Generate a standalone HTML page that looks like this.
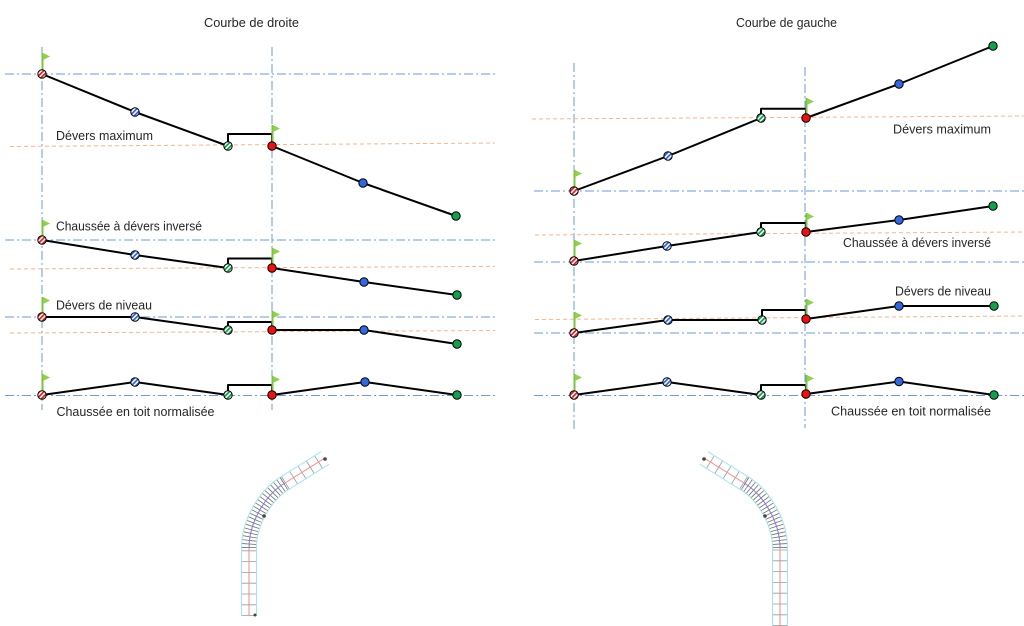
<!DOCTYPE html>
<html><head><meta charset="utf-8"><style>
html,body{margin:0;padding:0;background:#fff;}
svg{display:block;}
text{font-family:"Liberation Sans",sans-serif;font-size:13px;fill:#262626;}
</style></head><body>
<svg width="1024" height="626" viewBox="0 0 1024 626" xmlns="http://www.w3.org/2000/svg">
<defs>
<pattern id="pr" width="3.2" height="3.2" patternUnits="userSpaceOnUse" patternTransform="rotate(45)"><rect width="3.2" height="3.2" fill="#fff"/><rect width="1.7" height="3.2" fill="#e01e1e"/></pattern>
<pattern id="pb" width="3.2" height="3.2" patternUnits="userSpaceOnUse" patternTransform="rotate(45)"><rect width="3.2" height="3.2" fill="#fff"/><rect width="1.7" height="3.2" fill="#2f62d8"/></pattern>
<pattern id="pg" width="3.2" height="3.2" patternUnits="userSpaceOnUse" patternTransform="rotate(45)"><rect width="3.2" height="3.2" fill="#fff"/><rect width="1.7" height="3.2" fill="#109a48"/></pattern>
</defs>
<rect width="1024" height="626" fill="#fff"/>

<!-- Titles -->
<text x="204" y="27" textLength="95" lengthAdjust="spacingAndGlyphs">Courbe de droite</text>
<text x="736" y="27" textLength="101" lengthAdjust="spacingAndGlyphs">Courbe de gauche</text>

<!-- Blue dash-dot reference lines -->
<g stroke="#6d9bd6" stroke-width="1" stroke-dasharray="9 3 2 3" fill="none">
<line x1="5" y1="74" x2="495" y2="74"/>
<line x1="5" y1="240" x2="495" y2="240"/>
<line x1="5" y1="317" x2="495" y2="317"/>
<line x1="5" y1="395.5" x2="495" y2="395.5"/>
<line x1="42" y1="47" x2="42" y2="410"/>
<line x1="272" y1="47" x2="272" y2="410"/>
<line x1="534" y1="191" x2="1024" y2="191"/>
<line x1="534" y1="262" x2="1024" y2="262"/>
<line x1="534" y1="333" x2="1024" y2="333"/>
<line x1="534" y1="395.5" x2="1024" y2="395.5"/>
<line x1="574" y1="63" x2="574" y2="430"/>
<line x1="805" y1="67" x2="805" y2="428"/>
</g>

<!-- Orange dashed lines -->
<g stroke="#f6b58a" stroke-width="1" stroke-dasharray="4 3" fill="none">
<line x1="10" y1="146.5" x2="495" y2="143"/>
<line x1="10" y1="269" x2="495" y2="266.4"/>
<line x1="10" y1="333" x2="495" y2="330.5"/>
<line x1="532" y1="119" x2="1024" y2="116"/>
<line x1="535" y1="235" x2="1024" y2="232"/>
<line x1="535" y1="319.5" x2="1024" y2="316"/>
</g>

<!-- Black profile lines -->
<g stroke="#000" stroke-width="2" fill="none" stroke-linejoin="round">
<polyline points="42,74 135,112 228,146"/>
<polyline points="272,146 363,183 456,216"/>
<polyline points="228,146 228,134 272,134 272,146"/>
<polyline points="42,240 135,255 228,268"/>
<polyline points="272,268 364,282 457,295"/>
<polyline points="228,268 228,258.5 272,258.5 272,268"/>
<polyline points="42,317 135,317 228,330"/>
<polyline points="272,330 364,330 457,344"/>
<polyline points="228,330 228,322 272,322 272,330"/>
<polyline points="42,395 135,382 228,395"/>
<polyline points="272,395 365,382 457,395"/>
<polyline points="228,395 228,385 272,385 272,395"/>

<polyline points="574,191 668,156 761,118"/>
<polyline points="806,118 899,84 993,46"/>
<polyline points="761,118 761,108.7 806,108.7 806,118"/>
<polyline points="574,261 667,246 761,232"/>
<polyline points="806,232 899,220 993,206"/>
<polyline points="761,232 761,223 806,223 806,232"/>
<polyline points="574,333 668,320 762,320"/>
<polyline points="806,319 899,306 994,306"/>
<polyline points="762,320 762,310 806,310 806,319"/>
<polyline points="574,395 667,382 761,395"/>
<polyline points="806,394 899,381.5 994,395"/>
<polyline points="761,395 761,385 806,385 806,394"/>
</g>

<!-- Flags -->
<g>
<g stroke="#7cc242" stroke-width="2">
<line x1="42.5" y1="53" x2="42.5" y2="70"/>
<line x1="272.5" y1="125" x2="272.5" y2="142"/>
<line x1="42.5" y1="220" x2="42.5" y2="237"/>
<line x1="272.5" y1="248" x2="272.5" y2="265"/>
<line x1="42.5" y1="297" x2="42.5" y2="314"/>
<line x1="272.5" y1="311" x2="272.5" y2="327"/>
<line x1="42.5" y1="374" x2="42.5" y2="392"/>
<line x1="272.5" y1="376" x2="272.5" y2="392"/>
<line x1="574.5" y1="170" x2="574.5" y2="188"/>
<line x1="806.5" y1="98" x2="806.5" y2="115"/>
<line x1="574.5" y1="240" x2="574.5" y2="258"/>
<line x1="806.5" y1="213" x2="806.5" y2="229"/>
<line x1="574.5" y1="312" x2="574.5" y2="330"/>
<line x1="806.5" y1="299" x2="806.5" y2="316"/>
<line x1="574.5" y1="374" x2="574.5" y2="392"/>
<line x1="806.5" y1="375" x2="806.5" y2="391"/>
</g>
<g fill="#8fd14f">
<polygon points="43,53 50,56.5 43,60"/>
<polygon points="273,125 280,128.5 273,132"/>
<polygon points="43,220 50,223.5 43,227"/>
<polygon points="273,248 280,251.5 273,255"/>
<polygon points="43,297 50,300.5 43,304"/>
<polygon points="273,311 280,314.5 273,318"/>
<polygon points="43,374 50,377.5 43,381"/>
<polygon points="273,376 280,379.5 273,383"/>
<polygon points="575,170 582,173.5 575,177"/>
<polygon points="807,98 814,101.5 807,105"/>
<polygon points="575,240 582,243.5 575,247"/>
<polygon points="807,213 814,216.5 807,220"/>
<polygon points="575,312 582,315.5 575,319"/>
<polygon points="807,299 814,302.5 807,306"/>
<polygon points="575,374 582,377.5 575,381"/>
<polygon points="807,375 814,378.5 807,382"/>
</g>
</g>

<!-- Markers -->
<g stroke="#000" stroke-width="1">
<!-- left -->
<circle cx="42" cy="74" r="4.2" fill="url(#pr)"/>
<circle cx="135" cy="112" r="4.2" fill="url(#pb)"/>
<circle cx="228" cy="146" r="4.2" fill="url(#pg)"/>
<circle cx="272" cy="146" r="4.2" fill="#ee1111"/>
<circle cx="363" cy="183" r="4.2" fill="#3466e0"/>
<circle cx="456" cy="216" r="4.2" fill="#12a04c"/>

<circle cx="42" cy="240" r="4.2" fill="url(#pr)"/>
<circle cx="135" cy="255" r="4.2" fill="url(#pb)"/>
<circle cx="228" cy="268" r="4.2" fill="url(#pg)"/>
<circle cx="272" cy="268" r="4.2" fill="#ee1111"/>
<circle cx="364" cy="282" r="4.2" fill="#3466e0"/>
<circle cx="457" cy="295" r="4.2" fill="#12a04c"/>

<circle cx="42" cy="317" r="4.2" fill="url(#pr)"/>
<circle cx="135" cy="317" r="4.2" fill="url(#pb)"/>
<circle cx="228" cy="330" r="4.2" fill="url(#pg)"/>
<circle cx="272" cy="330" r="4.2" fill="#ee1111"/>
<circle cx="364" cy="330" r="4.2" fill="#3466e0"/>
<circle cx="457" cy="344" r="4.2" fill="#12a04c"/>

<circle cx="42" cy="395" r="4.2" fill="url(#pr)"/>
<circle cx="135" cy="382" r="4.2" fill="url(#pb)"/>
<circle cx="228" cy="395" r="4.2" fill="url(#pg)"/>
<circle cx="272" cy="395" r="4.2" fill="#ee1111"/>
<circle cx="365" cy="382" r="4.2" fill="#3466e0"/>
<circle cx="457" cy="395" r="4.2" fill="#12a04c"/>
<!-- right -->
<circle cx="574" cy="191" r="4.2" fill="url(#pr)"/>
<circle cx="668" cy="156" r="4.2" fill="url(#pb)"/>
<circle cx="761" cy="118" r="4.2" fill="url(#pg)"/>
<circle cx="806" cy="118" r="4.2" fill="#ee1111"/>
<circle cx="899" cy="84" r="4.2" fill="#3466e0"/>
<circle cx="993" cy="46" r="4.2" fill="#12a04c"/>

<circle cx="574" cy="261" r="4.2" fill="url(#pr)"/>
<circle cx="667" cy="246" r="4.2" fill="url(#pb)"/>
<circle cx="761" cy="232" r="4.2" fill="url(#pg)"/>
<circle cx="806" cy="232" r="4.2" fill="#ee1111"/>
<circle cx="899" cy="220" r="4.2" fill="#3466e0"/>
<circle cx="993" cy="206" r="4.2" fill="#12a04c"/>

<circle cx="574" cy="333" r="4.2" fill="url(#pr)"/>
<circle cx="668" cy="320" r="4.2" fill="url(#pb)"/>
<circle cx="762" cy="320" r="4.2" fill="url(#pg)"/>
<circle cx="806" cy="319" r="4.2" fill="#ee1111"/>
<circle cx="899" cy="306" r="4.2" fill="#3466e0"/>
<circle cx="994" cy="306" r="4.2" fill="#12a04c"/>

<circle cx="574" cy="395" r="4.2" fill="url(#pr)"/>
<circle cx="667" cy="382" r="4.2" fill="url(#pb)"/>
<circle cx="761" cy="395" r="4.2" fill="url(#pg)"/>
<circle cx="806" cy="394" r="4.2" fill="#ee1111"/>
<circle cx="899" cy="381.5" r="4.2" fill="#3466e0"/>
<circle cx="994" cy="395" r="4.2" fill="#12a04c"/>
</g>

<!-- Labels -->
<text x="56" y="140" textLength="97" lengthAdjust="spacingAndGlyphs">Dévers maximum</text>
<text x="56" y="230.7" textLength="146" lengthAdjust="spacingAndGlyphs">Chaussée à dévers inversé</text>
<text x="56" y="309.3" textLength="96" lengthAdjust="spacingAndGlyphs">Dévers de niveau</text>
<text x="56.5" y="416" textLength="158" lengthAdjust="spacingAndGlyphs">Chaussée en toit normalisée</text>

<text x="893" y="133.3" textLength="98" lengthAdjust="spacingAndGlyphs">Dévers maximum</text>
<text x="843" y="247" textLength="148" lengthAdjust="spacingAndGlyphs">Chaussée à dévers inversé</text>
<text x="895" y="295.7" textLength="96" lengthAdjust="spacingAndGlyphs">Dévers de niveau</text>
<text x="831" y="415.7" textLength="160" lengthAdjust="spacingAndGlyphs">Chaussée en toit normalisée</text>

<!-- Road plan left -->
<g fill="none">
<path d="M249,616 L249,548 C249,520 267.7,493 285,483 L325,458" stroke="#a6e3f2" stroke-width="16"/>
<path d="M249,616 L249,548 C249,520 267.7,493 285,483 L325,458" stroke="#fff" stroke-width="14"/>
<path d="M249,616 L249,548" stroke="#9a9a9a" stroke-width="14" stroke-dasharray="0.8 10"/>
<path d="M249,548 C249,520 267.7,493 285,483" stroke="#6e6e6e" stroke-width="14" stroke-dasharray="0.8 2.8"/>
<path d="M285,483 L325,458" stroke="#9a9a9a" stroke-width="14" stroke-dasharray="0.8 9"/>
<path d="M249,616 L249,548" stroke="#f08a8a" stroke-width="1"/>
<path d="M249,548 C249,520 267.7,493 285,483" stroke="#7a7ae6" stroke-width="1"/>
<path d="M285,483 L325,458" stroke="#f08a8a" stroke-width="1"/>
<circle cx="325" cy="459" r="1.8" fill="#444"/>
<circle cx="264" cy="516" r="1.8" fill="#444"/>
<circle cx="255" cy="615" r="1.5" fill="#444"/>
</g>

<!-- Road plan right (mirror) -->
<g fill="none" transform="translate(1029,0) scale(-1,1)">
<path d="M249,626 L249,548 C249,520 267.7,493 285,483 L325,458" stroke="#a6e3f2" stroke-width="16"/>
<path d="M249,626 L249,548 C249,520 267.7,493 285,483 L325,458" stroke="#fff" stroke-width="14"/>
<path d="M249,626 L249,548" stroke="#9a9a9a" stroke-width="14" stroke-dasharray="0.8 10"/>
<path d="M249,548 C249,520 267.7,493 285,483" stroke="#6e6e6e" stroke-width="14" stroke-dasharray="0.8 2.8"/>
<path d="M285,483 L325,458" stroke="#9a9a9a" stroke-width="14" stroke-dasharray="0.8 9"/>
<path d="M249,626 L249,548" stroke="#f08a8a" stroke-width="1"/>
<path d="M249,548 C249,520 267.7,493 285,483" stroke="#7a7ae6" stroke-width="1"/>
<path d="M285,483 L325,458" stroke="#f08a8a" stroke-width="1"/>
<circle cx="325" cy="459" r="1.8" fill="#444"/>
<circle cx="264" cy="516" r="1.8" fill="#444"/>
</g>
</svg>
</body></html>
